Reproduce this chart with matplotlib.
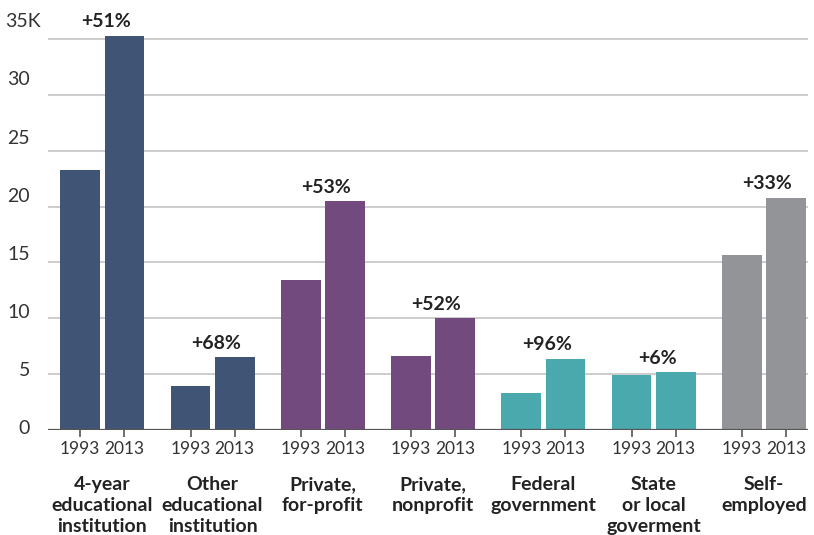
import matplotlib.pyplot as plt
import matplotlib.transforms as mtransforms
import numpy as np

plt.rcParams['font.family'] = ['Lato', 'DejaVu Sans']

# data (thousands)
categories = ['4-year\neducational\ninstitution', 'Other\neducational\ninstitution',
              'Private,\nfor-profit', 'Private,\nnonprofit', 'Federal\ngovernment',
              'State\nor local\ngoverment', 'Self-\nemployed']
vals_1993 = [23.3, 3.9, 13.4, 6.6, 3.3, 4.9, 15.7]
vals_2013 = [35.3, 6.5, 20.5, 10.0, 6.4, 5.2, 20.8]
pct_labels = ['+51%', '+68%', '+53%', '+52%', '+96%', '+6%', '+33%']
years = ['1993', '2013']
ytick_vals = [0, 5, 10, 15, 20, 25, 30, 35]
ytick_labels = ['0', '5', '10', '15', '20', '25', '30', '35K']
colors = ['#405575', '#405575', '#734a7d', '#734a7d', '#4aa9ac', '#4aa9ac', '#929497']

fig = plt.figure(figsize=(8.14, 5.35), dpi=100)
ax = fig.add_axes([48/814, 105/535, 760/814, (430-33.4)/535])

x = np.arange(len(categories))
off = 0.2
w = 0.36
ax.bar(x - off, vals_1993, w, color=colors, zorder=3)
ax.bar(x + off, vals_2013, w, color=colors, zorder=3)

ax.set_xlim(-0.493, 6.40)
ax.set_ylim(0, 35.5)

# gridlines
for v in ytick_vals[1:]:
    ax.axhline(v, color='#c4c4c4', lw=1.2, zorder=1)
ax.axhline(0, color='#555555', lw=1.6, zorder=4)

for s in ax.spines.values():
    s.set_visible(False)
ax.set_yticks([])

# year ticks
xt = np.concatenate([x - off, x + off])
ax.set_xticks(xt)
ax.set_xticklabels([years[0]] * len(x) + [years[1]] * len(x))
ax.tick_params(axis='x', length=5, width=1.2, color='#555555', pad=3,
               labelsize=12.5, labelcolor='#333333')

# y labels (slightly spread from gridlines like the original)
trans = mtransforms.blended_transform_factory(ax.transAxes, ax.transData)
for v, lab in zip(ytick_vals, ytick_labels):
    dx = 8 if lab.endswith('K') else 0
    ax.annotate(lab, (-0.0237, v * 1.041 + 0.1), xycoords=trans, xytext=(dx, 0),
                textcoords='offset points', ha='right', va='center', fontsize=14,
                color='#333333', annotation_clip=False)

# percent labels
for i, lab in enumerate(pct_labels):
    top = max(vals_1993[i], vals_2013[i])
    ax.annotate(lab, (x[i] + 0.03, top), xytext=(0, 10), textcoords='offset points',
                ha='center', va='center', fontsize=14, fontweight='bold', color='#222222')

# category labels
transb = mtransforms.blended_transform_factory(ax.transData, ax.transAxes)
for i, lab in enumerate(categories):
    ax.annotate(lab, (x[i], 0), xycoords=transb, xytext=(0, -33), textcoords='offset points',
                ha='center', va='top', fontsize=14, fontweight='bold', color='#222222',
                linespacing=1.3, annotation_clip=False)

fig.savefig('out.png', dpi=100)
